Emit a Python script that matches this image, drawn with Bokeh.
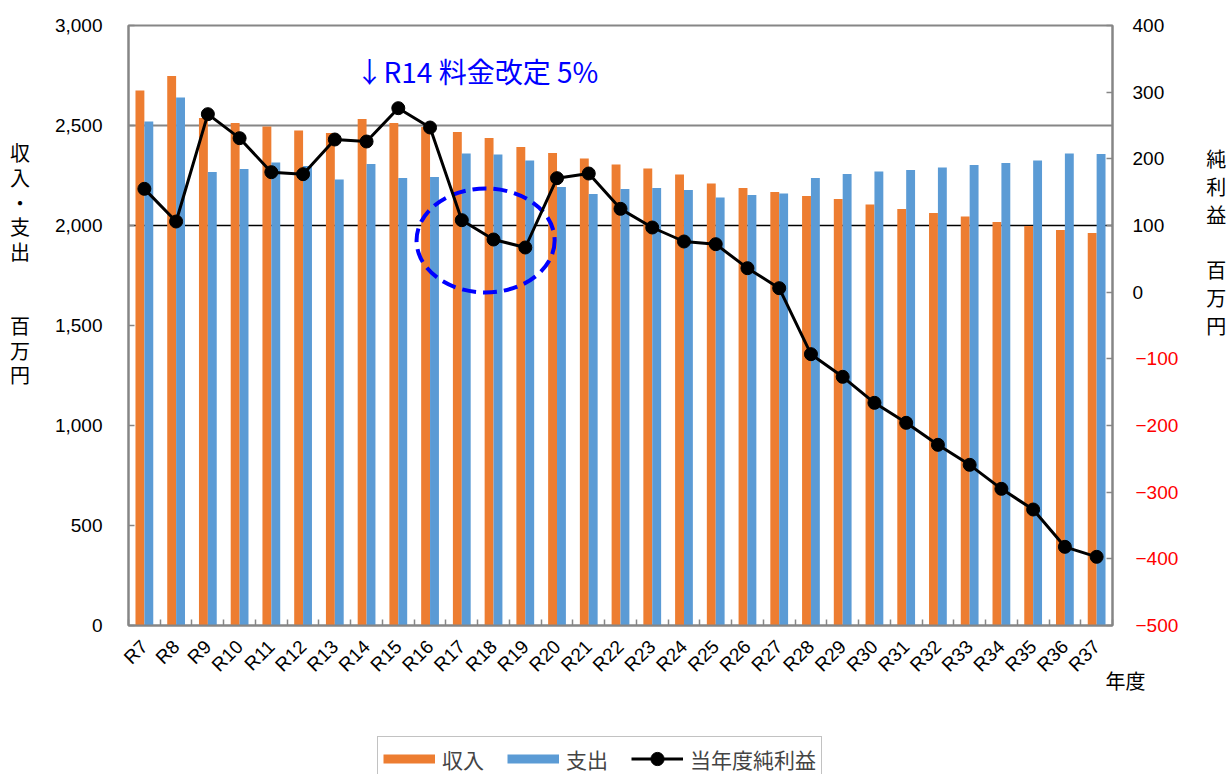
import math
from bokeh.plotting import figure
from bokeh.layouts import column
from bokeh.models import (Range1d, LinearAxis, FixedTicker, NumeralTickFormatter, Span,
                          Legend, LegendItem, ColumnDataSource, Title, Label)
from bokeh.transform import dodge
from bokeh.embed import file_html
from bokeh.resources import INLINE

# ---------------- data ----------------
categories = ["R7", "R8", "R9", "R10", "R11", "R12", "R13", "R14", "R15", "R16",
              "R17", "R18", "R19", "R20", "R21", "R22", "R23", "R24", "R25", "R26",
              "R27", "R28", "R29", "R30", "R31", "R32", "R33", "R34", "R35", "R36", "R37"]
revenue = [2675, 2747, 2537, 2513, 2495, 2475, 2462, 2533, 2513, 2492,
           2468, 2437, 2392, 2363, 2335, 2305, 2285, 2255, 2210, 2187,
           2168, 2147, 2132, 2105, 2083, 2062, 2045, 2018, 1998, 1978, 1963]
expense = [2520, 2640, 2267, 2283, 2315, 2298, 2230, 2307, 2237, 2243,
           2360, 2355, 2325, 2192, 2157, 2182, 2187, 2177, 2140, 2152,
           2160, 2238, 2258, 2270, 2277, 2290, 2302, 2312, 2325, 2360, 2357]
profit = [155, 106, 267, 231, 180, 177, 229, 226, 276, 247,
          108, 79, 67, 171, 178, 125, 97, 76, 72, 36,
          6, -93, -127, -166, -196, -229, -259, -295, -326, -382, -397]
left_ticks = [0, 500, 1000, 1500, 2000, 2500, 3000]
right_ticks = [-500, -400, -300, -200, -100, 0, 100, 200, 300, 400]
series_names = ["収入", "支出", "当年度純利益"]
left_title_chars = ["収", "入", "・", "支", "出", "　", "　", "百", "万", "円"]
right_title_chars = ["純", "利", "益", "　", "百", "万", "円"]
x_title = "年度"
note_text = "↓R14 料金改定 5%"
note_category = "R18"

ORANGE = "#ED7D31"
BLUE = "#5B9BD5"
GRAY = "#868686"
NUM_FONT = "Liberation Sans"
JP_FONT = "Noto Sans CJK JP"
FILL = "　"

n = len(categories)
src = ColumnDataSource(dict(idx=list(range(n)), cat=categories,
                            revenue=revenue, expense=expense, profit=profit))

p = figure(frame_width=984, frame_height=600, title=None,
           x_range=Range1d(-0.5, n - 0.5), y_range=Range1d(0, 3000),
           output_backend="svg", toolbar_location=None,
           min_border_left=128, min_border_right=119, min_border_top=25, min_border_bottom=110)
p.extra_y_ranges = {"right": Range1d(-500, 400)}
p.xgrid.visible = False
p.ygrid.visible = False
p.outline_line_color = GRAY
p.outline_line_width = 2
p.background_fill_color = "white"
p.border_fill_color = "white"

# reference lines behind the bars
p.add_layout(Span(location=2500, dimension="width", line_color=GRAY, line_width=2, level="underlay"))
p.add_layout(Span(location=2000, dimension="width", line_color="black", line_width=1.5, level="underlay"))

# bars
r_rev = p.vbar(x=dodge("idx", -0.14), top="revenue", bottom=0, width=0.28, source=src,
               fill_color=ORANGE, line_color=None)
r_exp = p.vbar(x=dodge("idx", 0.14), top="expense", bottom=0, width=0.28, source=src,
               fill_color=BLUE, line_color=None)

# dashed highlight ellipse
p.ellipse(x=[categories.index(note_category) - 0.25], y=[1925], width=4.35, height=520,
          fill_color=None, line_color="#0000FF", line_width=4, line_dash="14 7")

# net profit line
r_line = p.line(x="idx", y="profit", source=src, y_range_name="right",
                line_color="black", line_width=3)
r_pts = p.scatter(x="idx", y="profit", source=src, y_range_name="right",
                  size=13, fill_color="black", line_color="black")

# annotation text inside the plot area
p.add_layout(Label(x=227, y=555, x_units="screen", y_units="screen", text=note_text,
                   text_font=JP_FONT, text_font_size="28px", text_align="left",
                   text_baseline="middle", text_color="#0000FF"))

# x axis
xa = p.xaxis[0]
xa.ticker = FixedTicker(ticks=list(range(n)), minor_ticks=[i + 0.5 for i in range(-1, n)])
xa.major_label_overrides = {i: c for i, c in enumerate(categories)}
xa.major_tick_in = 0
xa.major_tick_out = 0
xa.minor_tick_in = 6
xa.minor_tick_out = 0
xa.minor_tick_line_color = GRAY
xa.minor_tick_line_width = 1.5
xa.axis_line_color = GRAY
xa.axis_line_width = 2
xa.major_label_orientation = math.pi / 4
xa.major_label_standoff = 18
xa.major_label_text_font = NUM_FONT
xa.major_label_text_font_size = "19px"
xa.major_label_text_color = "black"

# left axis with stacked (vertical) Japanese title
ya = p.yaxis[0]
ya.ticker = FixedTicker(ticks=left_ticks)
ya.formatter = NumeralTickFormatter(format="0,0")
ya.major_tick_in = 6
ya.major_tick_out = 0
ya.minor_tick_line_color = None
ya.major_tick_line_color = GRAY
ya.major_tick_line_width = 1.5
ya.axis_line_color = GRAY
ya.axis_line_width = 2
ya.major_label_standoff = 26
ya.major_label_text_font = NUM_FONT
ya.major_label_text_font_size = "19px"
ya.major_label_text_color = "black"
ya.axis_label = "\n".join(left_title_chars + [FILL] * 5)
ya.axis_label_orientation = "horizontal"
ya.axis_label_standoff = 22
ya.axis_label_text_font = JP_FONT
ya.axis_label_text_font_size = "20px"
ya.axis_label_text_font_style = "normal"
ya.axis_label_text_line_height = 0.85
ya.axis_label_text_color = "black"

# right axis: black labels (0 and above) on the inner axis
ra = LinearAxis(y_range_name="right", ticker=FixedTicker(ticks=right_ticks))
ra.major_label_overrides = {v: "" for v in right_ticks if v < 0}
ra.major_tick_in = 6
ra.major_tick_out = 0
ra.minor_tick_line_color = None
ra.major_tick_line_color = GRAY
ra.major_tick_line_width = 1.5
ra.axis_line_color = GRAY
ra.axis_line_width = 2
ra.major_label_standoff = 20
ra.major_label_text_font = NUM_FONT
ra.major_label_text_font_size = "19px"
ra.major_label_text_color = "black"
p.add_layout(ra, "right")

# right axis: red negative labels, drawn into the same column, plus the title
neg_labels = {v: ("\u2212" + str(abs(v)) if v < 0 else "") for v in right_ticks}
rb = LinearAxis(y_range_name="right", ticker=FixedTicker(ticks=right_ticks))
rb.major_label_overrides = neg_labels
rb.major_tick_in = 0
rb.major_tick_out = 0
rb.minor_tick_line_color = None
rb.major_tick_line_color = None
rb.axis_line_color = None
rb.major_label_standoff = -32
rb.major_label_text_font = NUM_FONT
rb.major_label_text_font_size = "19px"
rb.major_label_text_color = "#FF0000"
rb.axis_label = "\n".join(right_title_chars + [FILL] * 6)
rb.axis_label_orientation = "horizontal"
rb.axis_label_standoff = 25
rb.axis_label_text_font = JP_FONT
rb.axis_label_text_font_size = "20px"
rb.axis_label_text_font_style = "normal"
rb.axis_label_text_line_height = 0.96
rb.axis_label_text_color = "black"
p.add_layout(rb, "right")

# x-axis title at the right end, beside the rotated category labels
p.add_layout(Title(text=x_title, align="left", offset=977, standoff=-40, vertical_align="top",
                   text_font=JP_FONT, text_font_size="20px", text_font_style="normal",
                   text_color="black"), "below")

# ---------------- legend strip below the chart ----------------
lg = figure(width=1231, height=39, x_range=Range1d(0, 1), y_range=Range1d(0, 1),
            x_axis_type=None, y_axis_type=None, output_backend="svg", toolbar_location=None,
            min_border=0, title=None)
lg.outline_line_color = None
lg.border_fill_color = "white"
lg.background_fill_color = "white"
# legend keys only (placed outside the strip's visible range)
k_rev = lg.line(x=[-5, -4], y=[0.5, 0.5], line_color=ORANGE, line_width=9)
k_exp = lg.line(x=[-5, -4], y=[0.5, 0.5], line_color=BLUE, line_width=9)
k_line = lg.line(x=[-5, -4], y=[0.5, 0.5], line_color="black", line_width=3)
k_pts = lg.scatter(x=[-5], y=[0.5], size=13, fill_color="black", line_color="black")
legend = Legend(items=[LegendItem(label=series_names[0], renderers=[k_rev]),
                       LegendItem(label=series_names[1], renderers=[k_exp]),
                       LegendItem(label=series_names[2], renderers=[k_line, k_pts])],
                orientation="horizontal", location=(249, -7),
                glyph_width=52, glyph_height=33, label_standoff=7, spacing=23,
                padding=5, margin=0, label_text_font=JP_FONT, label_text_font_size="21px",
                label_height=22, border_line_color=GRAY, border_line_width=1.5,
                background_fill_color="white", background_fill_alpha=1.0)
lg.add_layout(legend, "center")

open("out.html", "w").write(file_html(column(p, lg, spacing=0), INLINE))
